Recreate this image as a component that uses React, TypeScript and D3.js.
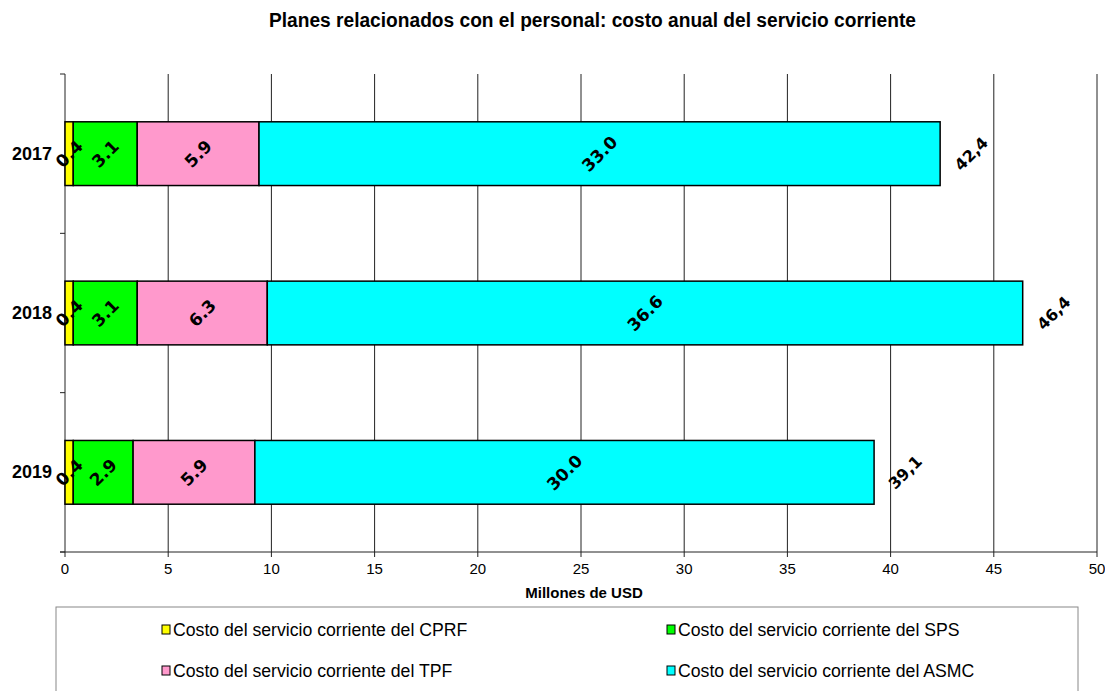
import React from "react";
import * as d3 from "d3";

const years = ["2017", "2018", "2019"];
const seriesNames = [
  "Costo del servicio corriente del CPRF",
  "Costo del servicio corriente del SPS",
  "Costo del servicio corriente del TPF",
  "Costo del servicio corriente del ASMC",
];
const seriesColors = ["#FFFF00", "#00FF00", "#FF99CC", "#00FFFF"];
const cprf = [0.4, 0.4, 0.4];
const sps = [3.1, 3.1, 2.9];
const tpf = [5.9, 6.3, 5.9];
const asmc = [33.0, 36.6, 30.0];
const totals = [42.4, 46.4, 39.1];
const xTicks = [0, 5, 10, 15, 20, 25, 30, 35, 40, 45, 50];

const W = 1105;
const H = 691;
const left = 65;
const right = 1097;
const top = 74;
const bottom = 552;
const FONT = "Arial, 'Liberation Sans', sans-serif";
const LBL = "'DejaVu Sans', Verdana, sans-serif";

export default function App() {
  const x = d3.scaleLinear().domain([0, 50]).range([left, right]);
  const y = d3.scaleBand().domain(years).range([top, bottom]);
  const bh = y.bandwidth() * 0.4;
  const rows = years.map((yr, i) => ({ yr, vals: [cprf[i], sps[i], tpf[i], asmc[i]], total: totals[i] }));

  return (
    <svg width={W} height={H} style={{ position: "absolute", left: 0, top: 0, background: "#fff" }} fontFamily={FONT}>
      <rect x={0} y={0} width={W} height={H} fill="#fff" />
      <text x={592.5} y={27} textAnchor="middle" fontWeight="bold" fontSize={19.5} textLength={647} lengthAdjust="spacingAndGlyphs">
        Planes relacionados con el personal: costo anual del servicio corriente
      </text>
      {/* gridlines */}
      {xTicks.slice(1).map((t) => (
        <line key={t} x1={x(t)} x2={x(t)} y1={top} y2={bottom} stroke="#222" strokeWidth={1} />
      ))}
      {/* left axis */}
      <line x1={left} x2={left} y1={top} y2={bottom} stroke="#222" strokeWidth={1} />
      {[...years.map((yr) => y(yr) as number), bottom].map((yy, i) => (
        <line key={i} x1={left - 5} x2={left} y1={yy} y2={yy} stroke="#222" />
      ))}
      {/* bottom axis */}
      <line x1={left - 5} x2={right} y1={bottom} y2={bottom} stroke="#222" strokeWidth={1} />
      {xTicks.map((t) => (
        <g key={t}>
          <line x1={x(t)} x2={x(t)} y1={bottom} y2={bottom + 5} stroke="#222" />
          <text x={x(t)} y={574} textAnchor="middle" fontSize={15}>{t}</text>
        </g>
      ))}
      <text x={584} y={598} textAnchor="middle" fontWeight="bold" fontSize={15}>Millones de USD</text>
      {/* bars */}
      {rows.map((r) => {
        const cy = (y(r.yr) as number) + y.bandwidth() / 2;
        let acc = 0;
        return (
          <g key={r.yr}>
            <text x={52} y={cy + 6} textAnchor="end" fontWeight="bold" fontSize={18}>{r.yr}</text>
            {r.vals.map((v, j) => {
              const x0 = x(acc);
              acc += v;
              const x1 = x(acc);
              return (
                <rect key={j} x={x0} y={cy - bh / 2} width={x1 - x0} height={bh} fill={seriesColors[j]} stroke="#000" strokeWidth={1.5} />
              );
            })}
            {(() => {
              let a = 0;
              return r.vals.map((v, j) => {
                const cx = x(a + v / 2);
                a += v;
                return (
                  <text key={j} transform={`translate(${cx},${cy}) rotate(-45)`} textAnchor="middle" dy="0.36em" fontWeight="bold" fontSize={17} fontFamily={LBL}>
                    {v.toFixed(1)}
                  </text>
                );
              });
            })()}
            <text transform={`translate(${x(acc) + 31},${cy}) rotate(-45)`} textAnchor="middle" dy="0.36em" fontWeight="bold" fontSize={16} fontFamily={LBL}>
              {r.total.toFixed(1).replace(".", ",")}
            </text>
          </g>
        );
      })}
      {/* legend */}
      <rect x={56} y={607} width={1022} height={100} fill="#fff" stroke="#888" strokeWidth={1} />
      {seriesNames.map((n, i) => {
        const lx = i % 2 === 0 ? 162 : 667;
        const ly = i < 2 ? 636 : 677;
        return (
          <g key={n}>
            <rect x={lx} y={ly - 11} width={8} height={9} fill={seriesColors[i]} stroke="#000" strokeWidth={1} />
            <text transform={`translate(${lx + 11},${ly}) scale(0.93,1)`} fontSize={19}>{n}</text>
          </g>
        );
      })}
    </svg>
  );
}
